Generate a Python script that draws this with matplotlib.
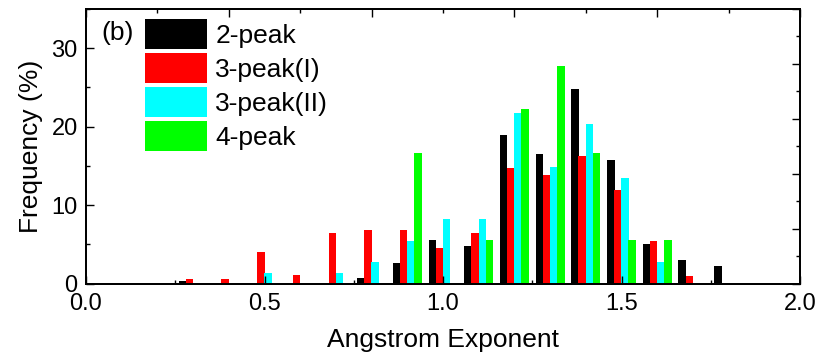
import matplotlib
matplotlib.use("Agg")
import matplotlib.pyplot as plt
import numpy as np
from matplotlib.ticker import MultipleLocator

plt.rcParams['font.family'] = ['Liberation Sans', 'DejaVu Sans']

centers = [0.3, 0.4, 0.5, 0.6, 0.7, 0.8, 0.9, 1.0, 1.1, 1.2, 1.3, 1.4, 1.5, 1.6, 1.7, 1.8]
series_names = ["2-peak", "3-peak(I)", "3-peak(II)", "4-peak"]
peak2 = [0.35, 0, 0, 0, 0, 0.75, 2.6, 5.6, 4.8, 19.0, 16.5, 24.8, 15.7, 5.1, 3.0, 2.2]
peak3_I = [0.55, 0.55, 4.0, 1.05, 6.4, 6.9, 6.9, 4.5, 6.45, 14.8, 13.8, 16.3, 11.9, 5.4, 1.0, 0]
peak3_II = [0, 0, 1.4, 0, 1.4, 2.75, 5.45, 8.2, 8.2, 21.7, 14.9, 20.3, 13.5, 2.75, 0, 0]
peak4 = [0, 0, 0, 0, 0, 0, 16.7, 0, 5.6, 22.3, 27.8, 16.7, 5.6, 5.6, 0, 0]
colors = ["#000000", "#ff0000", "#00ffff", "#00ff00"]

W, H = 817, 356
fig = plt.figure(figsize=(W / 100, H / 100), dpi=100)
ax = fig.add_axes([86 / W, 1 - 283.7 / H, (800 - 86) / W, (283.7 - 9) / H])

x = np.array(centers)
offsets = [-0.03, -0.01, 0.01, 0.03]
for data, off, col, name in zip([peak2, peak3_I, peak3_II, peak4], offsets, colors, series_names):
    ax.bar(x + off, data, width=0.021, color=col, label=name, linewidth=0)

ax.set_xlim(0, 2.0)
ax.set_ylim(0, 35)
ax.xaxis.set_major_locator(MultipleLocator(0.5))
ax.xaxis.set_minor_locator(MultipleLocator(0.25))
ax.yaxis.set_major_locator(MultipleLocator(10))
ax.yaxis.set_minor_locator(MultipleLocator(5))
ax.xaxis.set_major_formatter(matplotlib.ticker.FormatStrFormatter('%.1f'))
ax.tick_params(which='both', direction='in', top=False, right=False, width=1.0, labelsize=17)
ax.tick_params(axis='x', pad=7)
ax.tick_params(axis='y', pad=6)
ax.tick_params(which='major', length=6)
ax.tick_params(which='minor', length=3)

# secondary top/right ticks (Origin style)
axt = ax.twiny()
axt.set_xlim(0, 2.0)
axt.xaxis.set_major_locator(MultipleLocator(0.4))
axt.xaxis.set_minor_locator(MultipleLocator(0.2))
axt.tick_params(which='both', direction='in', labeltop=False, width=1.0)
axt.tick_params(which='major', length=6)
axt.tick_params(which='minor', length=3)
axr = ax.twinx()
axr.set_ylim(0, 35)
axr.yaxis.set_major_locator(MultipleLocator(7))
axr.yaxis.set_minor_locator(MultipleLocator(3.5))
axr.tick_params(which='both', direction='in', labelright=False, width=1.0)
axr.tick_params(which='major', length=6)
axr.tick_params(which='minor', length=3)

for a in (ax, axt, axr):
    for s in a.spines.values():
        s.set_linewidth(1.2)

ax.set_xlabel("Angstrom Exponent", fontsize=19, labelpad=9)
ax.set_ylabel("Frequency (%)", fontsize=19, labelpad=6)

leg = ax.legend(loc='upper left', bbox_to_anchor=((145 - 86) / 714, (283.7 - 19) / 274.7),
                frameon=False, fontsize=19, handlelength=2.36, handleheight=1.37,
                handletextpad=0.3, labelspacing=0.15, borderpad=0, borderaxespad=0)

ax.text((101 - 86) / 714, (283.7 - 33) / 274.7, "(b)", fontsize=19, transform=ax.transAxes,
        va='center', ha='left')

fig.savefig("out.png", dpi=100)
